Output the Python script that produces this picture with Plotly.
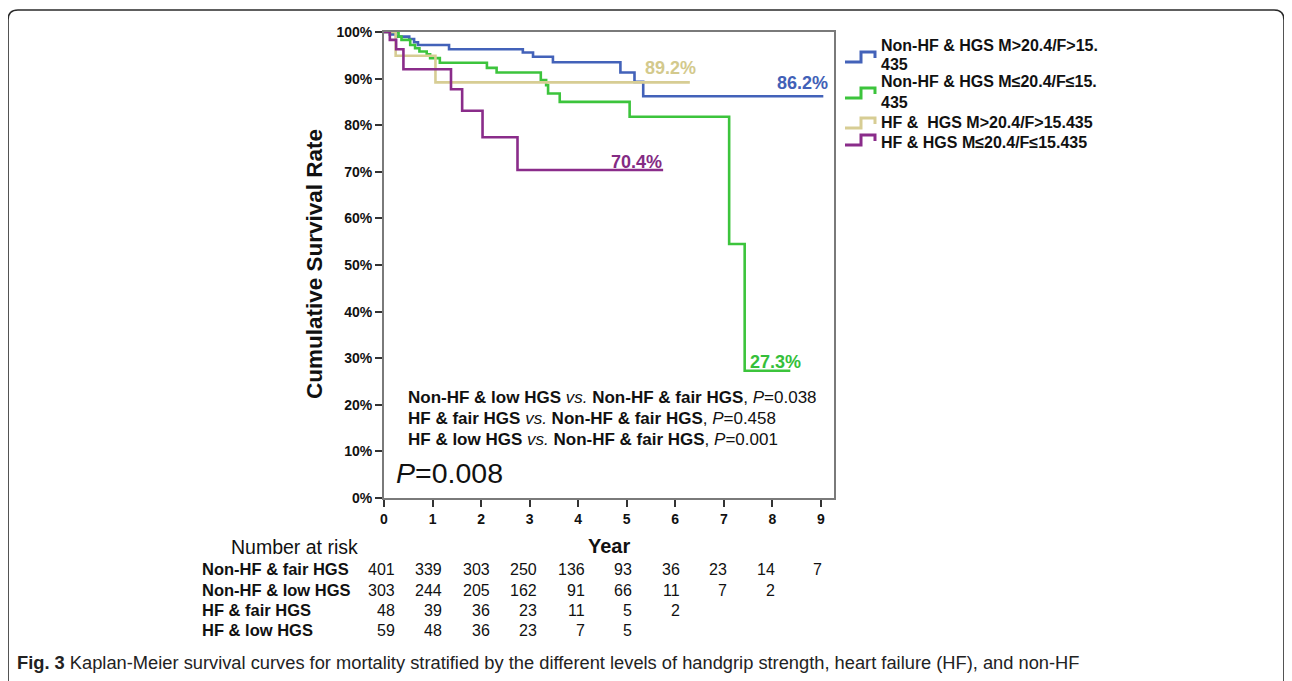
import plotly.graph_objects as go

# ---------------- data ----------------
years = [0, 1, 2, 3, 4, 5, 6, 7, 8, 9]
y_ticks = [0, 0.1, 0.2, 0.3, 0.4, 0.5, 0.6, 0.7, 0.8, 0.9, 1.0]

blue_t = [0, 0.12, 0.25, 0.52, 0.62, 0.70, 1.34, 2.86, 3.07, 3.48, 4.87, 5.16, 5.34, 9.05]
blue_s = [1.0, 0.995, 0.99, 0.985, 0.978, 0.972, 0.963, 0.956, 0.947, 0.935, 0.913, 0.893, 0.862, 0.862]

green_t = [0, 0.30, 0.36, 0.54, 0.64, 0.73, 0.88, 0.95, 1.15, 2.12, 2.32, 3.23, 3.34, 3.38, 3.62, 5.06, 7.11, 7.43, 8.37]
green_s = [1.0, 0.99, 0.983, 0.972, 0.965, 0.958, 0.952, 0.944, 0.934, 0.923, 0.913, 0.897, 0.886, 0.868, 0.85, 0.818, 0.545, 0.273, 0.273]

tan_t = [0, 0.24, 1.06, 6.30]
tan_s = [1.0, 0.949, 0.892, 0.892]

purple_t = [0, 0.12, 0.25, 0.40, 1.38, 1.61, 2.03, 2.75, 5.75]
purple_s = [1.0, 0.983, 0.963, 0.92, 0.877, 0.831, 0.774, 0.704, 0.704]

series_names = [
    "Non-HF & HGS M>20.4/F>15.<br>435",
    "Non-HF & HGS M≤20.4/F≤15.<br>435",
    "HF &  HGS M>20.4/F>15.435",
    "HF & HGS M≤20.4/F≤15.435",
]
colors = ["#4362B9", "#3CC43C", "#D7CD94", "#8A2C8A"]
label_colors = ["#4261B7", "#35BF3A", "#D3C98C", "#842B84"]
end_labels = ["86.2%", "27.3%", "89.2%", "70.4%"]
end_label_pos = [(8.63, 0.891), (8.06, 0.292), (5.91, 0.923), (5.20, 0.721)]

risk_rows = ["Non-HF & fair HGS", "Non-HF & low HGS", "HF & fair HGS", "HF & low HGS"]
risk_values = [
    [401, 339, 303, 250, 136, 93, 36, 23, 14, 7],
    [303, 244, 205, 162, 91, 66, 11, 7, 2],
    [48, 39, 36, 23, 11, 5, 2],
    [59, 48, 36, 23, 7, 5],
]

comparisons = [
    "<b>Non-HF & low HGS</b> <i>vs.</i> <b>Non-HF & fair HGS</b>, <i>P</i>=0.038",
    "<b>HF & fair HGS</b> <i>vs.</i> <b>Non-HF & fair HGS</b>, <i>P</i>=0.458",
    "<b>HF & low HGS</b> <i>vs.</i> <b>Non-HF & fair HGS</b>, <i>P</i>=0.001",
]
overall_p = "<i>P</i>=0.008"
caption_bold = "Fig. 3"
caption_text = ("Kaplan-Meier survival curves for mortality stratified by the different levels of "
                "handgrip strength, heart failure (HF), and non-HF")

# ---------------- layout geometry (page pixels) ----------------
OFF = 8                    # default body margin of the html page
W, H = 1292 - OFF, 681 - OFF
L, R, T, B = 384, 834, 32, 498  # plot area in page pixels
XMAX = 9.27
FONT = "Arial, 'Liberation Sans', sans-serif"


def px(x):
    return (x - L) / (R - L)


def py(y):
    return (B - y) / (B - T)


fig = go.Figure()
curves = [(blue_t, blue_s), (green_t, green_s), (tan_t, tan_s), (purple_t, purple_s)]
for (t, s), name, c in zip(curves, series_names, colors):
    fig.add_trace(go.Scatter(x=t, y=s, mode="lines", line=dict(color=c, width=2.6, shape="hv"),
                             name=name, showlegend=False, hoverinfo="x+y"))

annotations = []
for txt, (x, y), c in zip(end_labels, end_label_pos, label_colors):
    annotations.append(dict(x=x, y=y, xref="x", yref="y", text=f"<b>{txt}</b>", showarrow=False,
                            font=dict(family=FONT, size=18, color=c), xanchor="center", yanchor="middle"))

for i, txt in enumerate(comparisons):
    annotations.append(dict(x=px(406), y=py(397 + 21 * i), xref="paper", yref="paper", text=txt,
                            showarrow=False, xanchor="left", yanchor="middle",
                            font=dict(family=FONT, size=17, color="#111")))
annotations.append(dict(x=px(394), y=py(473), xref="paper", yref="paper", text=overall_p, showarrow=False,
                        xanchor="left", yanchor="middle", font=dict(family=FONT, size=28.5, color="#111")))

# legend (custom, step-shaped icons)
legend_text_y = [(45, 65), (82, 102), (122,), (142,)]
legend_icon_y = [57, 93, 123, 140]
shapes = []
for i, (name, c) in enumerate(zip(series_names, colors)):
    lines = name.split("<br>")
    for ln, yy in zip(lines, legend_text_y[i]):
        annotations.append(dict(x=px(879), y=py(yy), xref="paper", yref="paper", text=f"<b>{ln}</b>",
                                showarrow=False, xanchor="left", yanchor="middle",
                                font=dict(family=FONT, size=16, color="#111")))
    yc = legend_icon_y[i]
    pts = [(845, yc + 5), (861, yc + 5), (861, yc - 5), (875, yc - 5), (875, yc + 1)]
    path = "M " + " L ".join(f"{px(a):.5f},{py(b):.5f}" for a, b in pts)
    shapes.append(dict(type="path", path=path, xref="paper", yref="paper",
                       line=dict(color=c, width=3)))

# number at risk table
annotations.append(dict(x=px(229), y=py(547), xref="paper", yref="paper", text="Number at risk",
                        showarrow=False, xanchor="left", yanchor="middle",
                        font=dict(family=FONT, size=19.5, color="#111")))
row_y = [569, 590, 610, 630]
for r, (lab, vals) in enumerate(zip(risk_rows, risk_values)):
    annotations.append(dict(x=px(200), y=py(row_y[r]), xref="paper", yref="paper", text=f"<b>{lab}</b>",
                            showarrow=False, xanchor="left", yanchor="middle",
                            font=dict(family=FONT, size=16.5, color="#111")))
    for t, v in zip(years, vals):
        annotations.append(dict(x=t, y=py(row_y[r]), xref="x", yref="paper", text=str(v), showarrow=False,
                                xanchor="right", yanchor="middle", xshift=13 - 1.1 * t,
                                font=dict(family=FONT, size=16, color="#111")))

# axis titles
annotations.append(dict(x=px(609), y=py(546), xref="paper", yref="paper", text="<b>Year</b>",
                        showarrow=False, xanchor="center", yanchor="middle",
                        font=dict(family=FONT, size=20, color="#111")))
annotations.append(dict(x=px(315), y=py(264), xref="paper", yref="paper", text="<b>Cumulative Survival Rate</b>",
                        showarrow=False, xanchor="center", yanchor="middle", textangle=-90,
                        font=dict(family=FONT, size=22.5, color="#111")))

# caption
annotations.append(dict(x=px(15), y=py(662), xref="paper", yref="paper",
                        text=f"<b>{caption_bold}</b> {caption_text}", showarrow=False,
                        xanchor="left", yanchor="middle",
                        font=dict(family=FONT, size=18.3, color="#222")))

# outer rounded border (open at bottom)
r_ = 10
border = [
    f"M {px(8):.5f},{py(690):.5f}",
    f"L {px(8):.5f},{py(10 + r_):.5f}",
    f"Q {px(8):.5f},{py(10):.5f} {px(8 + r_):.5f},{py(10):.5f}",
    f"L {px(1284 - r_):.5f},{py(10):.5f}",
    f"Q {px(1284):.5f},{py(10):.5f} {px(1284):.5f},{py(10 + r_):.5f}",
    f"L {px(1284):.5f},{py(690):.5f}",
]
shapes.append(dict(type="path", path=" ".join(border), xref="paper", yref="paper",
                   line=dict(color="#2a2a2a", width=1.6)))

fig.update_layout(
    width=W, height=H,
    margin=dict(l=L - OFF, r=W - (R - OFF), t=T - OFF, b=H - (B - OFF), pad=0),
    paper_bgcolor="white", plot_bgcolor="white",
    showlegend=False,
    annotations=annotations, shapes=shapes,
    font=dict(family=FONT, color="#111"),
)
fig.update_xaxes(range=[0, XMAX], tickmode="array", tickvals=years, ticktext=[f"<b>{y}</b>" for y in years],
                 showgrid=False, zeroline=False, showline=True, linecolor="#7a7a7a", linewidth=1.8,
                 mirror=True, ticks="outside", ticklen=7, tickwidth=1.5, tickcolor="#333",
                 tickfont=dict(family=FONT, size=14, color="#111"))
fig.update_yaxes(range=[0, 1.0], tickmode="array", tickvals=y_ticks,
                 ticktext=[f"<b>{int(round(v * 100))}%</b>" for v in y_ticks],
                 showgrid=False, zeroline=False, showline=True, linecolor="#7a7a7a", linewidth=1.8,
                 mirror=True, ticks="outside", ticklen=7, tickwidth=1.5, tickcolor="#333",
                 tickfont=dict(family=FONT, size=14, color="#111"))

fig.write_html("out.html")
